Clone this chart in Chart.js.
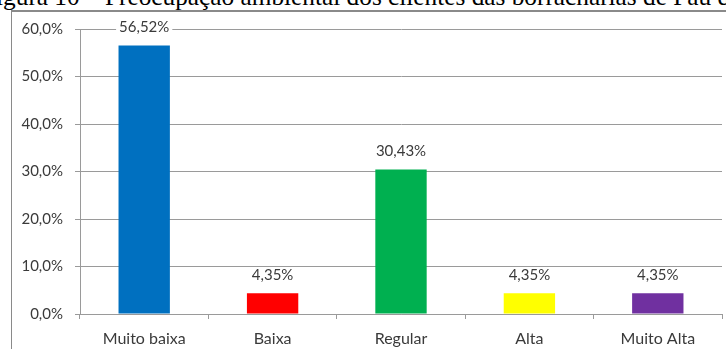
<!DOCTYPE html>
<html>
<head>
<meta charset="utf-8">
<script src="https://cdn.jsdelivr.net/npm/chart.js@4.4.1/dist/chart.umd.min.js"></script>
<style>
  html, body { margin: 0; padding: 0; background: #fff; overflow: hidden; }
  #wrap { position: relative; width: 726px; height: 349px; overflow: hidden; }
  #title { position: absolute; left: -18px; top: -16px; white-space: nowrap;
           font-family: "Liberation Serif", "Times New Roman", serif; font-size: 25.3px; line-height: 25px; color: #000; }
  #frame { position: absolute; left: 11px; top: 10px; width: 800px; height: 400px;
           border-left: 1px solid #8a8a8a; border-top: 2px solid #8a8a8a; }
  #c { position: absolute; left: 0; top: 0; }
</style>
</head>
<body>
<div id="wrap">
  <div id="title">Figura 10 – Preocupação ambiental dos clientes das borracharias de Pau dos Ferros</div>
  <div id="frame"></div>
  <canvas id="c" width="726" height="349"></canvas>
</div>
<script>
const categories = ["Muito baixa", "Baixa", "Regular", "Alta", "Muito Alta"];
const values = [56.52, 4.35, 30.43, 4.35, 4.35];
const valueLabels = ["56,52%", "4,35%", "30,43%", "4,35%", "4,35%"];
const barColors = ["#0070C0", "#FF0000", "#00B050", "#FFFF00", "#7030A0"];
const yTicks = [0, 10, 20, 30, 40, 50, 60];

const FONT = "Lato, 'Open Sans', sans-serif";
const TEXT = "#3a3a3a";
const GRID = "#9a9a9a";

const labelPlugin = {
  id: 'valueLabels',
  afterDatasetsDraw(chart) {
    const ctx = chart.ctx;
    const meta = chart.getDatasetMeta(0);
    ctx.save();
    ctx.font = "15px " + FONT;
    ctx.textAlign = "center";
    ctx.textBaseline = "middle";
    meta.data.forEach((bar, i) => {
      const t = valueLabels[i];
      const w = ctx.measureText(t).width;
      const y = bar.y - 18;
      ctx.fillStyle = "#fff";
      ctx.fillRect(bar.x - w / 2 - 3, y - 8, w + 6, 16);
      ctx.fillStyle = TEXT;
      ctx.fillText(t, bar.x, y);
    });
    ctx.restore();
  }
};

new Chart(document.getElementById('c'), {
  type: 'bar',
  data: {
    labels: categories,
    datasets: [{
      data: values,
      backgroundColor: barColors,
      borderWidth: 0,
      categoryPercentage: 1,
      barPercentage: 0.4
    }]
  },
  options: {
    responsive: false,
    animation: false,
    events: [],
    layout: { padding: { top: 29, right: 4, left: 0, bottom: 0 } },
    plugins: { legend: { display: false }, tooltip: { enabled: false } },
    scales: {
      x: {
        offset: true,
        grid: { offset: true, drawOnChartArea: false, drawTicks: true, tickLength: 5, color: GRID },
        border: { color: GRID, width: 1 },
        ticks: { font: { family: FONT, size: 16 }, color: TEXT, padding: 10, maxRotation: 0 },
        afterFit(s) { s.height = 35; }
      },
      y: {
        min: 0, max: 60,
        afterBuildTicks(s) { s.ticks = yTicks.map(v => ({ value: v })); },
        grid: { color: GRID, tickLength: 5 },
        border: { color: GRID, width: 1 },
        ticks: {
          font: { family: FONT, size: 15 }, color: TEXT, padding: 12,
          callback: v => v.toFixed(1).replace('.', ',') + '%'
        },
        afterFit(s) { s.width = 80; }
      }
    }
  },
  plugins: [labelPlugin]
});
</script>
</body>
</html>
